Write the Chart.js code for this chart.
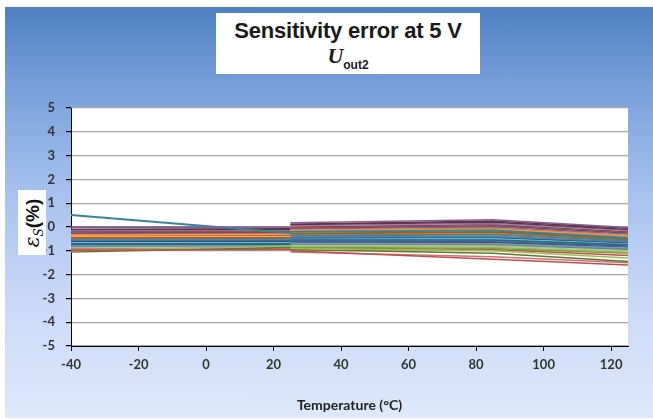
<!DOCTYPE html>
<html><head><meta charset="utf-8">
<script src="https://cdn.jsdelivr.net/npm/chart.js@4/dist/chart.umd.min.js"></script>
<style>
html,body{margin:0;padding:0;background:#fff;width:653px;height:419px;overflow:hidden;}
#bg{position:absolute;left:5px;top:7px;width:648px;height:411px;
 background:linear-gradient(to bottom,#4f80c2 0%,#79a0da 20%,#a6c1ee 45%,#c8d8f6 70%,#dde8fb 100%);}
#c{position:absolute;left:0;top:0;}
#title{position:absolute;left:216px;top:13px;width:264px;height:61px;background:#fff;text-align:center;color:#1a1a1a;}
#t1{position:absolute;left:0;width:264px;top:7px;font:bold 22px "Liberation Sans",Arial,sans-serif;line-height:22px;letter-spacing:-0.2px;}
#t2{position:absolute;left:0;width:264px;top:30px;line-height:24px;}
#t2 .u{font:bold italic 22px "Liberation Serif","Times New Roman",serif;}
#t2 .s{font:bold 12px "Liberation Sans",Arial,sans-serif;position:relative;top:6px;}
#ytitle{position:absolute;left:18px;top:190px;width:28px;height:65px;background:#fff;}
#ytitle span.r{position:absolute;left:14px;top:33px;transform:translate(-50%,-50%) rotate(-90deg);white-space:nowrap;color:#111;}
#ytitle .e{font:italic 20px "DejaVu Serif","Liberation Serif",serif;}
#ytitle .ss{font:italic 12px "DejaVu Serif","Liberation Serif",serif;position:relative;top:4px;}
#ytitle .p{font:bold 19px "Liberation Sans",Arial,sans-serif;}
</style></head>
<body>
<div id="bg"></div>
<canvas id="c" width="653" height="419"></canvas>
<div id="title"><div id="t1">Sensitivity error at 5 V</div><div id="t2"><span class="u">U</span><span class="s">out2</span></div></div>
<div id="ytitle"><span class="r"><span class="e">ε</span><span class="ss">S</span><span class="p">(%)</span></span></div>
<script>
// Temperatures (°C) where each device was measured; 25 °C appears twice (two measurement runs)
const temps = [-40, 25, 85, 125];
// Sensitivity error (%) per device
const errAtM40   = [-0.55,-0.98,-1.00, 0.00, 0.50,-0.35,-0.60,-0.02,-1.05,-0.10,-0.70,-0.45,-0.80,-0.92,-0.88,-0.15,-0.65,-0.40,-0.75,-0.20,-0.95,-0.25,-0.50,-0.30,-0.85,-0.70,-0.90,-0.28,-0.58,-0.48,-0.68,-0.78,-0.82,-0.38,-0.42,-0.52,-0.72,-0.55,-0.62,-0.30];
const errAt25a   = [-0.52,-0.95,-0.80, 0.00,-0.25,-0.32,-0.60,-0.05,-0.85,-0.10,-0.70,-0.45,-0.80,-0.92,-0.82,-0.15,-0.65,-0.40,-0.75,-0.20,-0.88,-0.22,-0.50,-0.28,-0.85,-0.90,-0.90,-0.30,-0.58,-0.42,-0.62,-0.72,-0.78,-0.35,-0.38,-0.48,-0.68,-0.80,-0.55,-0.55];
const errAt25b   = [-0.42,-1.00,-0.90, 0.18,-0.20,-0.15,-0.45, 0.12,-0.95, 0.10,-0.55,-0.28,-0.68,-1.05,-0.78, 0.05,-0.50,-0.22,-0.62, 0.00,-0.85,-0.05,-0.35,-0.12,-0.75,-0.88,-0.80,-0.10,-0.48,-0.30,-0.52,-0.65,-0.70,-0.20,-0.25,-0.38,-0.58,-0.60,-0.40,-0.35];
const errAt85    = [-0.40,-1.35,-1.00, 0.30,-0.15,-0.10,-0.42, 0.25,-1.10, 0.20,-0.55,-0.22,-0.70,-1.25,-0.80, 0.15,-0.50,-0.15,-0.62, 0.10,-0.90, 0.05,-0.30,-0.05,-0.78,-0.95,-0.85, 0.00,-0.45,-0.25,-0.52,-0.65,-0.72,-0.12,-0.20,-0.32,-0.58,-0.65,-0.35,-0.35];
const errAt125   = [-0.62,-1.60,-1.30,-0.02,-0.45,-0.38,-0.65,-0.05,-1.45,-0.10,-0.75,-0.50,-0.88,-1.50,-1.00,-0.15,-0.70,-0.42,-0.80,-0.20,-1.10,-0.25,-0.55,-0.35,-0.95,-1.20,-1.05,-0.30,-0.68,-0.52,-0.72,-0.85,-0.90,-0.40,-0.45,-0.58,-0.78,-0.90,-0.60,-0.60];
const xTicks = [-40,-20,0,20,40,60,80,100,120];
const yTicks = [-5,-4,-3,-2,-1,0,1,2,3,4,5];

const palette = ['#4F81BD','#C0504D','#9BBB59','#8064A2','#31859C','#F79646',
 '#2C4D75','#772C2A','#5F7530','#4D3B62','#276A7C','#B65708',
 '#729ACA','#CD7371','#AFC97A','#9983B5','#6FBDD1','#F9AB6B',
 '#3A6595','#9E3B38','#7E9D40','#664F85','#358EA4','#E07C23'];

const datasets = errAtM40.map((v,i)=>({
  data:[{x:temps[0],y:v},{x:temps[1],y:errAt25a[i]},{x:temps[1],y:null},
        {x:temps[1],y:errAt25b[i]},{x:temps[2],y:errAt85[i]},{x:temps[3],y:errAt125[i]}],
  borderColor:palette[i%palette.length],borderWidth:i===4?2:1.5,pointRadius:0,tension:0,spanGaps:false,fill:false
}));

const plotBg = {id:'plotBg',beforeDraw(ch){const a=ch.chartArea,c=ch.ctx;c.save();c.fillStyle='#fff';c.fillRect(a.left,a.top,a.right-a.left,a.bottom-a.top);c.restore();}};
const tickFont = {family:'Lato, "Open Sans", sans-serif',size:13,weight:'bold'};

new Chart(document.getElementById('c'),{
  type:'line',
  data:{datasets},
  plugins:[plotBg],
  options:{
    responsive:false,animation:false,devicePixelRatio:1,
    layout:{padding:{left:0,top:108,right:25,bottom:0}},
    plugins:{legend:{display:false},tooltip:{enabled:false},title:{display:false}},
    scales:{
      x:{type:'linear',min:-40,max:125,
        afterFit(s){s.height=73;},
        afterBuildTicks(s){s.ticks=xTicks.map(v=>({value:v}));},
        grid:{drawOnChartArea:false,drawTicks:true,tickLength:5,tickColor:'#000',color:'#000'},
        border:{color:'#000',width:1},
        ticks:{font:tickFont,color:'#333',padding:6,maxRotation:0,autoSkip:false},
        title:{display:true,text:'Temperature (°C)',font:{family:'Lato, "Open Sans", sans-serif',size:14,weight:'bold'},color:'#222',padding:{top:0,bottom:5}}
      },
      y:{type:'linear',min:-5,max:5,
        afterFit(s){s.width=71;},
        afterBuildTicks(s){s.ticks=yTicks.map(v=>({value:v}));},
        grid:{color:'#a8a8a8',lineWidth:1.2,tickLength:5,tickColor:'#000',drawTicks:true},
        border:{color:'#000',width:1},
        ticks:{font:tickFont,color:'#333',padding:11,autoSkip:false}
      }
    }
  }
});
</script>
</body></html>
